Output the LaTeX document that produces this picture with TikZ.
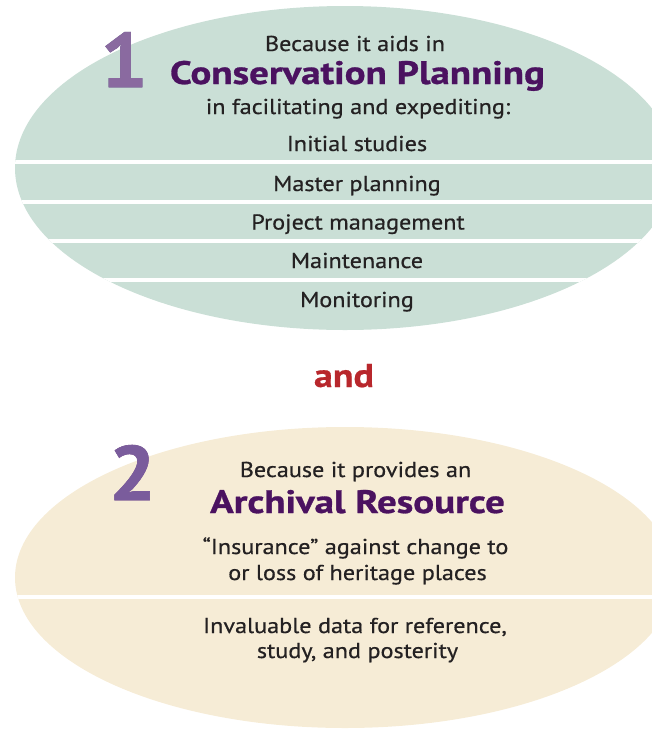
\documentclass[tikz,border=0pt]{standalone}
\usepackage{fontspec}
\setmainfont{PT Sans}
\newfontfamily\bodyfont[FakeStretch=1.125, FakeBold=0.6]{PT Sans}
\newfontfamily\headfont[FakeStretch=1.2, FakeBold=0.9]{PT Sans}
\newfontfamily\andfont[FakeStretch=1.15, FakeBold=0.6]{PT Sans}
\newfontfamily\numfont[FakeStretch=1.08, FakeBold=0.8]{PT Sans}
\usetikzlibrary{fadings}
\definecolor{topfill}{HTML}{CADFD6}
\definecolor{botfill}{HTML}{F6ECD6}
\definecolor{txt}{HTML}{242122}
\definecolor{head}{HTML}{4B1260}
\definecolor{andred}{HTML}{B8272C}
\definecolor{numtopA}{HTML}{8A6AA0}
\definecolor{numbotA}{HTML}{6A6890}
\definecolor{numtopB}{HTML}{7A5C9C}
\definecolor{numbotB}{HTML}{967298}
\tikzfading[name=fadedown, top color=transparent!0, bottom color=transparent!100]
\begin{document}
\begin{tikzpicture}[x=1pt,y=-1pt,
  body/.style={anchor=base, inner sep=0pt, text=txt, font=\bodyfont\fontsize{21.5}{24}\selectfont},
  heading/.style={anchor=base, inner sep=0pt, text=head, font=\headfont\fontsize{32.5}{36}\selectfont\bfseries},
  numeral/.style={anchor=base, inner sep=0pt, font=\numfont\fontsize{77}{80}\selectfont\bfseries},
  divider/.style={white, line width=4pt}]
\useasboundingbox (0,0) rectangle (652,732);
\begin{scope}
  \clip (0,0) rectangle (652,732);
  % top ellipse
  \fill[topfill] (345,168) ellipse [x radius=330, y radius=162];
  \begin{scope}
    \clip (345,168) ellipse [x radius=330, y radius=162];
    \draw[divider] (0,162) -- (660,162);
    \draw[divider] (0,202) -- (660,202);
    \draw[divider] (0,241) -- (660,241);
    \draw[divider] (0,280) -- (660,280);
  \end{scope}
  % bottom ellipse
  \fill[botfill] (345,577.5) ellipse [x radius=330, y radius=150.5];
  \begin{scope}
    \clip (345,577.5) ellipse [x radius=330, y radius=150.5];
    \draw[divider] (0,597) -- (660,597);
  \end{scope}
\end{scope}
% numerals
\node[numeral, text=numbotA] (n1) at (124,87) {1};
\begin{scope}[scope fading=fadedown, fading transform={shift={(124,60)}}]
  \node[numeral, text=numtopA] (n1t) at (124,87) {1};
\end{scope}
\node[numeral, text=numbotB] (n2) at (132.5,500) {2};
\begin{scope}[scope fading=fadedown, fading transform={shift={(132,472)}}]
  \node[numeral, text=numtopB] (n2t) at (132.5,500) {2};
\end{scope}
% top texts
\node[body] (t1) at (355,51) {Because it aids in};
\node[heading] (t2) at (357.5,84) {Conservation Planning};
\node[body] (t3) at (358,114) {in facilitating and expediting:};
\node[body] (t4) at (357,151) {Initial studies};
\node[body] (t5) at (357,191) {Master planning};
\node[body] (t6) at (358,229.5) {Project management};
\node[body] (t7) at (357,268) {Maintenance};
\node[body] (t8) at (357,307) {Monitoring};
% and
\node[anchor=base, inner sep=0pt, text=andred, font=\andfont\fontsize{33}{36}\selectfont\bfseries] (and) at (344,387) {and};
% bottom texts
\node[body] (b1) at (355.5,477) {Because it provides an};
\node[heading] (b2) at (357.5,513) {Archival Resource};
\node[body] (b3) at (355.5,554) {“Insurance” against change to};
\node[body] (b4) at (357.5,580) {or loss of heritage places};
\node[body] (b5) at (355,633) {Invaluable data for reference,};
\node[body] (b6) at (357.5,658) {study, and posterity};
\end{tikzpicture}
\end{document}
